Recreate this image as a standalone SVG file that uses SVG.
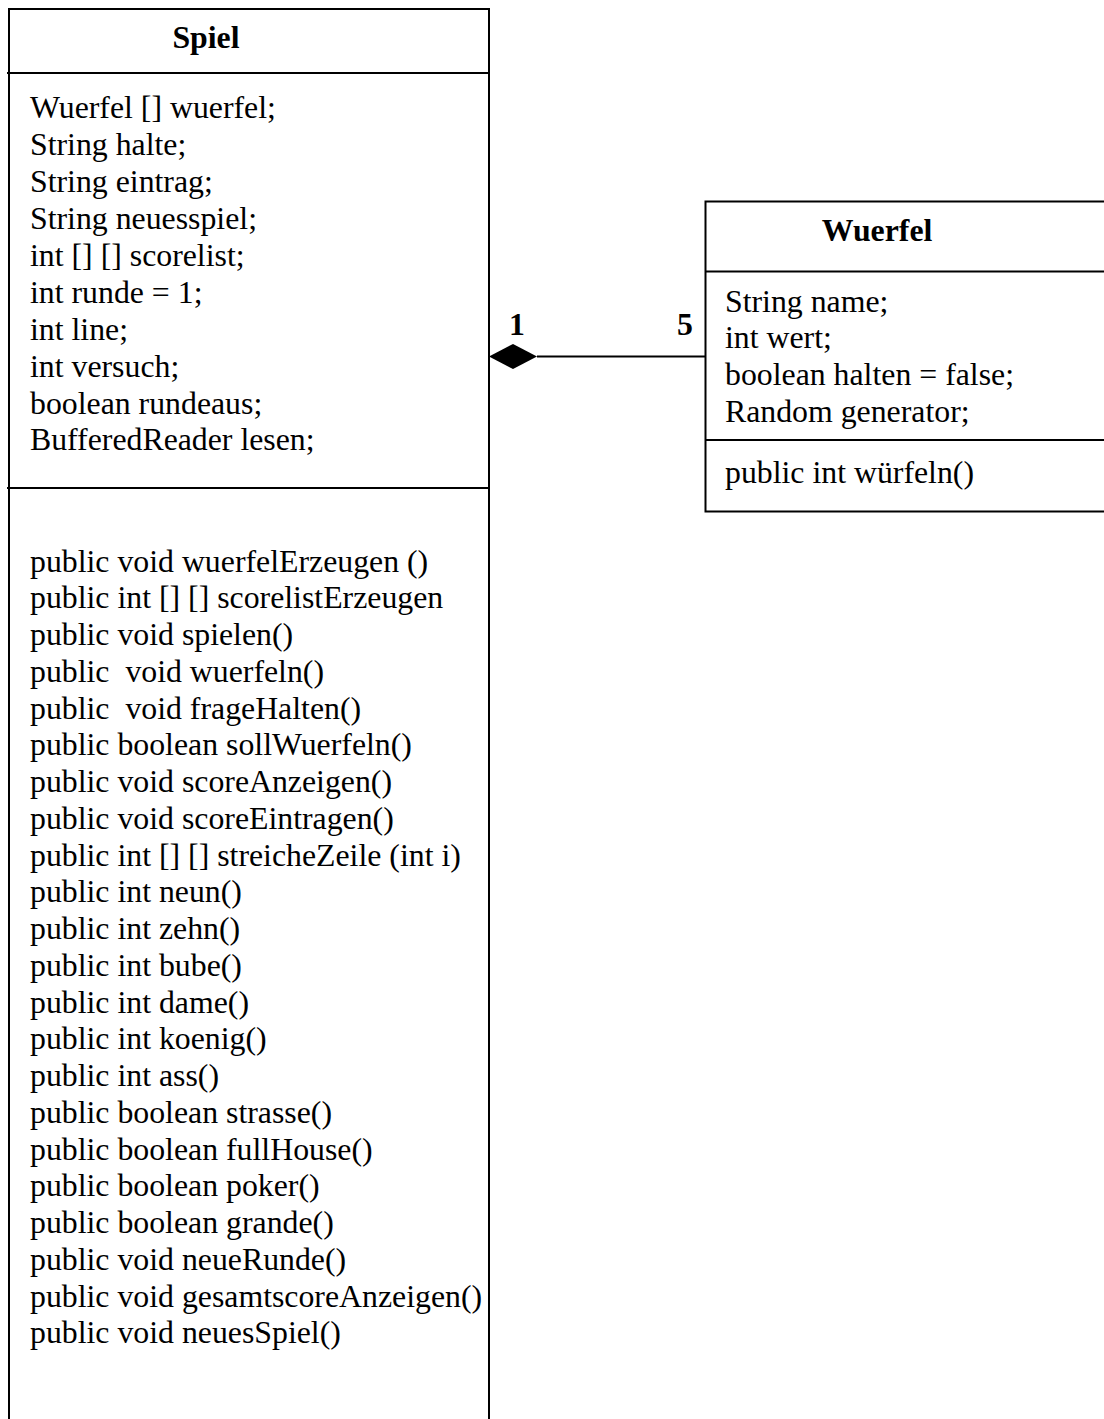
<svg xmlns="http://www.w3.org/2000/svg" width="1104" height="1419" viewBox="0 0 1104 1419">
<style>
.box{fill:#fff;stroke:#000;stroke-width:2}
.ln{stroke:#000;stroke-width:2;fill:none}
text{font-family:"Liberation Serif","Times New Roman",serif;font-size:31.8px;fill:#000;white-space:pre}
.t{font-weight:bold;text-anchor:middle}
.m{font-weight:bold}
</style>
<rect width="1104" height="1419" fill="#fff"/>
<g id="Spiel">
<path class="ln" d="M9,1419 V9 H489 V1419"/>
<line class="ln" x1="7" y1="73" x2="489" y2="73"/>
<line class="ln" x1="7" y1="488" x2="489" y2="488"/>
<text class="t" x="206" y="47.5">Spiel</text>
<text x="30" y="118.3">Wuerfel [] wuerfel;</text>
<text x="30" y="155.2">String halte;</text>
<text x="30" y="192.1">String eintrag;</text>
<text x="30" y="229">String neuesspiel;</text>
<text x="30" y="265.9">int [] [] scorelist;</text>
<text x="30" y="302.8">int runde = 1;</text>
<text x="30" y="339.7">int line;</text>
<text x="30" y="376.6">int versuch;</text>
<text x="30" y="413.5">boolean rundeaus;</text>
<text x="30" y="450.4">BufferedReader lesen;</text>
<text x="30" y="571.7">public void wuerfelErzeugen ()</text>
<text x="30" y="608.4">public int [] [] scorelistErzeugen</text>
<text x="30" y="645.2">public void spielen()</text>
<text x="30" y="681.9">public  void wuerfeln()</text>
<text x="30" y="718.7">public  void frageHalten()</text>
<text x="30" y="755.4">public boolean sollWuerfeln()</text>
<text x="30" y="792.1">public void scoreAnzeigen()</text>
<text x="30" y="828.9">public void scoreEintragen()</text>
<text x="30" y="865.6">public int [] [] streicheZeile (int i)</text>
<text x="30" y="902.4">public int neun()</text>
<text x="30" y="939.1">public int zehn()</text>
<text x="30" y="975.8">public int bube()</text>
<text x="30" y="1012.6">public int dame()</text>
<text x="30" y="1049.3">public int koenig()</text>
<text x="30" y="1086.1">public int ass()</text>
<text x="30" y="1122.8">public boolean strasse()</text>
<text x="30" y="1159.5">public boolean fullHouse()</text>
<text x="30" y="1196.3">public boolean poker()</text>
<text x="30" y="1233">public boolean grande()</text>
<text x="30" y="1269.8">public void neueRunde()</text>
<text x="30" y="1306.5">public void gesamtscoreAnzeigen()</text>
<text x="30" y="1343.3">public void neuesSpiel()</text>
</g>
<g id="Wuerfel">
<path class="ln" d="M1104,201.5 H705.5 V511.5 H1104"/>
<line class="ln" x1="705" y1="271.5" x2="1104" y2="271.5"/>
<line class="ln" x1="705" y1="440" x2="1104" y2="440"/>
<text class="t" x="877" y="240.5">Wuerfel</text>
<text x="725" y="311.6">String name;</text>
<text x="725" y="348.3">int wert;</text>
<text x="725" y="385">boolean halten = false;</text>
<text x="725" y="421.7">Random generator;</text>
<text x="725" y="483.3">public int würfeln()</text>
</g>
<g id="connectors">
<line class="ln" x1="537" y1="356.5" x2="705" y2="356.5"/>
<polygon points="489,356.5 513,344 537,356.5 513,369" fill="#000"/>
<text class="m" x="509" y="335">1</text>
<text class="m" x="677" y="335">5</text>
</g>
</svg>
